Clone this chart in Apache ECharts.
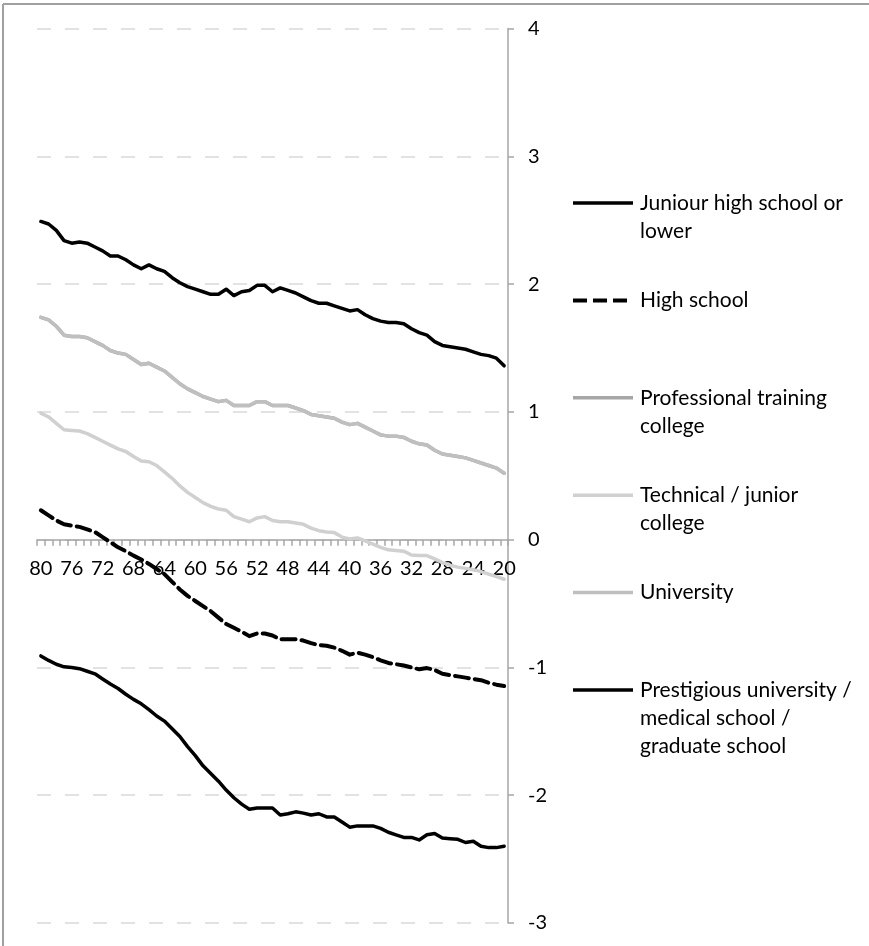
<!DOCTYPE html>
<html>
<head>
<meta charset="utf-8">
<script src="https://cdn.jsdelivr.net/npm/echarts@6/dist/echarts.min.js"></script>
<style>html,body{margin:0;padding:0;background:#fff}#c{width:869px;height:946px}</style>
</head>
<body>
<div id="c"></div>
<script>
const ages = ['80','79','78','77','76','75','74','73','72','71','70','69','68','67','66','65','64','63','62','61','60','59','58','57','56','55','54','53','52','51','50','49','48','47','46','45','44','43','42','41','40','39','38','37','36','35','34','33','32','31','30','29','28','27','26','25','24','23','22','21','20'];

const seriesNames = ['Juniour high school or lower','High school','Professional training college','Technical / junior college','University','Prestigious university / medical school / graduate school'];
const legendLabels = ['Juniour high school or\nlower','High school','Professional training\ncollege','Technical / junior\ncollege','University','Prestigious university /\nmedical school /\ngraduate school'];

const juniorHigh = [2.49,2.47,2.42,2.34,2.32,2.33,2.32,2.29,2.26,2.22,2.22,2.19,2.15,2.12,2.15,2.12,2.10,2.05,2.01,1.98,1.96,1.94,1.92,1.92,1.96,1.91,1.94,1.95,1.99,1.99,1.94,1.97,1.95,1.93,1.90,1.87,1.85,1.85,1.83,1.81,1.79,1.80,1.76,1.73,1.71,1.70,1.70,1.69,1.65,1.62,1.60,1.55,1.52,1.51,1.50,1.49,1.47,1.45,1.44,1.42,1.36];
const highSchool = [0.23,0.19,0.15,0.12,0.11,0.10,0.08,0.06,0.02,-0.02,-0.06,-0.09,-0.125,-0.155,-0.19,-0.23,-0.27,-0.33,-0.39,-0.44,-0.48,-0.52,-0.56,-0.61,-0.66,-0.69,-0.72,-0.755,-0.735,-0.735,-0.75,-0.78,-0.78,-0.78,-0.79,-0.81,-0.825,-0.83,-0.845,-0.87,-0.90,-0.885,-0.90,-0.92,-0.945,-0.965,-0.975,-0.985,-1.00,-1.015,-1.005,-1.02,-1.05,-1.06,-1.07,-1.08,-1.09,-1.10,-1.12,-1.135,-1.146];
const professional = [1.74,1.72,1.67,1.60,1.59,1.59,1.58,1.55,1.52,1.48,1.46,1.45,1.41,1.37,1.38,1.35,1.32,1.27,1.22,1.18,1.15,1.12,1.10,1.08,1.09,1.05,1.05,1.05,1.08,1.08,1.05,1.05,1.05,1.03,1.01,0.98,0.97,0.96,0.95,0.92,0.90,0.91,0.88,0.85,0.82,0.81,0.81,0.80,0.77,0.75,0.74,0.70,0.67,0.66,0.65,0.64,0.62,0.60,0.58,0.56,0.52];
const technical = [0.99,0.96,0.91,0.86,0.855,0.85,0.83,0.80,0.77,0.74,0.71,0.69,0.65,0.615,0.61,0.58,0.53,0.48,0.42,0.37,0.33,0.29,0.26,0.24,0.23,0.18,0.16,0.14,0.17,0.18,0.15,0.14,0.14,0.13,0.12,0.09,0.07,0.06,0.055,0.02,0.005,0.013,-0.01,-0.035,-0.06,-0.08,-0.085,-0.09,-0.12,-0.125,-0.125,-0.15,-0.18,-0.20,-0.215,-0.225,-0.235,-0.25,-0.27,-0.29,-0.31];
const university = [1.74,1.72,1.67,1.60,1.59,1.59,1.58,1.55,1.52,1.48,1.46,1.45,1.41,1.37,1.38,1.35,1.32,1.27,1.22,1.18,1.15,1.12,1.10,1.08,1.09,1.05,1.05,1.05,1.08,1.08,1.05,1.05,1.05,1.03,1.01,0.98,0.97,0.96,0.95,0.92,0.90,0.91,0.88,0.85,0.82,0.81,0.81,0.80,0.77,0.75,0.74,0.70,0.67,0.66,0.65,0.64,0.62,0.60,0.58,0.56,0.52];
const prestigious = [-0.91,-0.945,-0.975,-0.995,-1.00,-1.01,-1.03,-1.05,-1.09,-1.13,-1.165,-1.21,-1.25,-1.285,-1.33,-1.38,-1.42,-1.48,-1.54,-1.62,-1.69,-1.77,-1.83,-1.89,-1.96,-2.02,-2.07,-2.11,-2.10,-2.10,-2.10,-2.155,-2.145,-2.13,-2.14,-2.155,-2.145,-2.17,-2.17,-2.21,-2.25,-2.24,-2.24,-2.24,-2.26,-2.29,-2.31,-2.33,-2.33,-2.35,-2.31,-2.30,-2.335,-2.34,-2.345,-2.37,-2.36,-2.40,-2.41,-2.41,-2.40];

const yMin = -3, yMax = 4;

const allData = [juniorHigh, highSchool, professional, technical, university, prestigious];
const styles = [
  {color:'#000000', width:3.5, type:'solid'},
  {color:'#000000', width:4, type:[14,6]},
  {color:'#a6a6a6', width:3.5, type:'solid'},
  {color:'#d0d0d0', width:3.5, type:'solid'},
  {color:'#bfbfbf', width:3.5, type:'solid'},
  {color:'#000000', width:3.5, type:'solid'}
];

const FONT = 'Lato';
const GRID = {left:37, right:361, top:28.5, bottom:23};
const plotH = 946 - GRID.top - GRID.bottom;
// distance from grid bottom edge up to the value-0 line
const zeroOffset = plotH * (0 - yMin) / (yMax - yMin);

const chart = echarts.init(document.getElementById('c'));

const series = allData.map((d, i) => ({
  name: seriesNames[i],
  type: 'line',
  data: d,
  symbol: 'none',
  smooth: false,
  animation: false,
  lineStyle: {color: styles[i].color, width: styles[i].width, type: styles[i].type, cap: 'round', join: 'round'},
  itemStyle: {color: styles[i].color},
  z: 3 + i
}));

const graphic = [
  {type:'line', shape:{x1:3, y1:4, x2:869, y2:4}, style:{stroke:'#a0a0a0', lineWidth:2}, silent:true},
  {type:'line', shape:{x1:3, y1:4, x2:3, y2:946}, style:{stroke:'#a0a0a0', lineWidth:2}, silent:true}
];
legendLabels.forEach((lab, i) => {
  const yc = 203 + i * 97.4;
  const s = styles[i];
  graphic.push({type:'line', shape:{x1:573, y1:yc, x2:633, y2:yc},
    style:{stroke:s.color, lineWidth:s.width, lineDash: s.type === 'solid' ? null : s.type}, silent:true});
  graphic.push({type:'text', left:640, top:yc - 14,
    style:{text:lab, font:'21px ' + FONT, fill:'#000', lineHeight:28, verticalAlign:'top'}, silent:true});
});

chart.setOption({
  animation: false,
  backgroundColor: '#ffffff',
  grid: {left:GRID.left, right:GRID.right, top:GRID.top, bottom:GRID.bottom, containLabel:false, outerBoundsMode:'none'},
  xAxis: {
    type:'category',
    data: ages,
    position:'bottom',
    offset: -zeroOffset,
    boundaryGap: true,
    axisLine: {onZero:false, lineStyle:{color:'#a6a6a6', width:1.5}},
    axisTick: {show:true, interval:0, length:6, inside:false, lineStyle:{color:'#a6a6a6', width:1.5}},
    axisLabel: {interval:3, margin:19, fontSize:20, fontFamily:FONT, color:'#000'},
    splitLine: {show:false}
  },
  yAxis: {
    type:'value',
    position:'right',
    min:yMin, max:yMax, interval:1,
    axisLine: {show:true, lineStyle:{color:'#a6a6a6', width:1.5}},
    axisTick: {show:true, length:6, inside:false, lineStyle:{color:'#a6a6a6', width:1.5}},
    axisLabel: {margin:20, fontSize:20, fontFamily:FONT, color:'#000'},
    splitLine: {show:true, lineStyle:{color:'#d9d9d9', width:1.5, type:[14,14]}}
  },
  legend: {show:false},
  series: series,
  graphic: graphic
});
</script>
</body>
</html>
